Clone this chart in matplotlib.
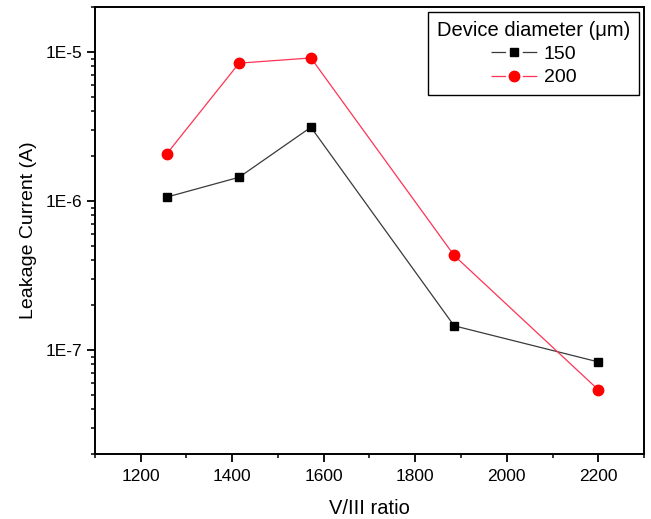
import math
import matplotlib
matplotlib.use("Agg")
import matplotlib.pyplot as plt
from matplotlib.lines import Line2D
from matplotlib.legend_handler import HandlerTuple
from matplotlib.ticker import LogLocator, FixedLocator, NullFormatter, FuncFormatter, MultipleLocator

plt.rcParams['font.family'] = ['Liberation Sans', 'DejaVu Sans']
plt.rcParams['lines.scale_dashes'] = False

v_iii_ratio = [1257, 1415, 1572, 1885, 2200]
leak_150 = [1.06e-6, 1.44e-6, 3.12e-6, 1.45e-7, 8.3e-8]
leak_200 = [2.07e-6, 8.4e-6, 9.1e-6, 4.3e-7, 5.4e-8]
series_labels = ['150', '200']
x_ticks = [1200, 1400, 1600, 1800, 2000, 2200]

col_150_line, col_150_mark = '#3a3a3a', 'black'
col_200_line, col_200_mark = '#ff3355', '#ff0000'

fig = plt.figure(figsize=(6.51, 5.19), dpi=100)
ax = fig.add_axes([95/651, 1 - 454/519, (644-95)/651, (454-7)/519])

ax.plot(v_iii_ratio, leak_150, color=col_150_line, lw=0.9, marker='s', ms=6,
        mfc=col_150_mark, mec=col_150_mark)
ax.plot(v_iii_ratio, leak_200, color=col_200_line, lw=0.9, marker='o', ms=7.5,
        mfc=col_200_mark, mec=col_200_mark)

ax.set_yscale('log')
ax.set_xlim(1100, 2300)
ax.set_ylim(2e-8, 2e-5)

ax.xaxis.set_major_locator(FixedLocator(x_ticks))
ax.xaxis.set_minor_locator(MultipleLocator(100))
ax.yaxis.set_major_locator(LogLocator(base=10, numticks=10))
ax.yaxis.set_minor_locator(LogLocator(base=10, subs=range(2, 10), numticks=20))
ax.yaxis.set_minor_formatter(NullFormatter())
ax.yaxis.set_major_formatter(FuncFormatter(lambda v, p: f"1E{int(round(math.log10(v)))}"))

ax.tick_params(axis='both', which='major', direction='out', length=5.5, width=1.3,
               labelsize=12.5, top=False, right=False)
ax.tick_params(axis='x', which='major', pad=5)
ax.tick_params(axis='both', which='minor', direction='out', length=3.2, width=1.1,
               top=False, right=False)
for s in ax.spines.values():
    s.set_linewidth(1.4)

ax.set_xlabel('V/III ratio', fontsize=14.5, labelpad=11)
ax.set_ylabel('Leakage Current (A)', fontsize=14, labelpad=6)

# Legend handles: line broken on both sides of the marker
def legend_handle(line_col, mark_col, marker, ms):
    seg = Line2D([], [], color=line_col, lw=0.9, linestyle=(0, (10.5, 12)))
    mk = Line2D([], [], color=mark_col, lw=0, marker=marker, ms=ms,
                mfc=mark_col, mec=mark_col)
    return (seg, mk)

handles = [legend_handle(col_150_line, col_150_mark, 's', 6),
           legend_handle(col_200_line, col_200_mark, 'o', 7.5)]
leg = ax.legend(handles, series_labels, title='Device diameter (\u03bcm)',
                handler_map={tuple: HandlerTuple(ndivide=1)},
                loc='upper right', fontsize=14, title_fontsize=14.5, frameon=True,
                fancybox=False, edgecolor='black', handlelength=2.35,
                borderaxespad=0.25, labelspacing=0.3, borderpad=0.45,
                handletextpad=0.35, framealpha=1)
leg.get_frame().set_linewidth(1.0)

fig.savefig('out.png', dpi=100)
